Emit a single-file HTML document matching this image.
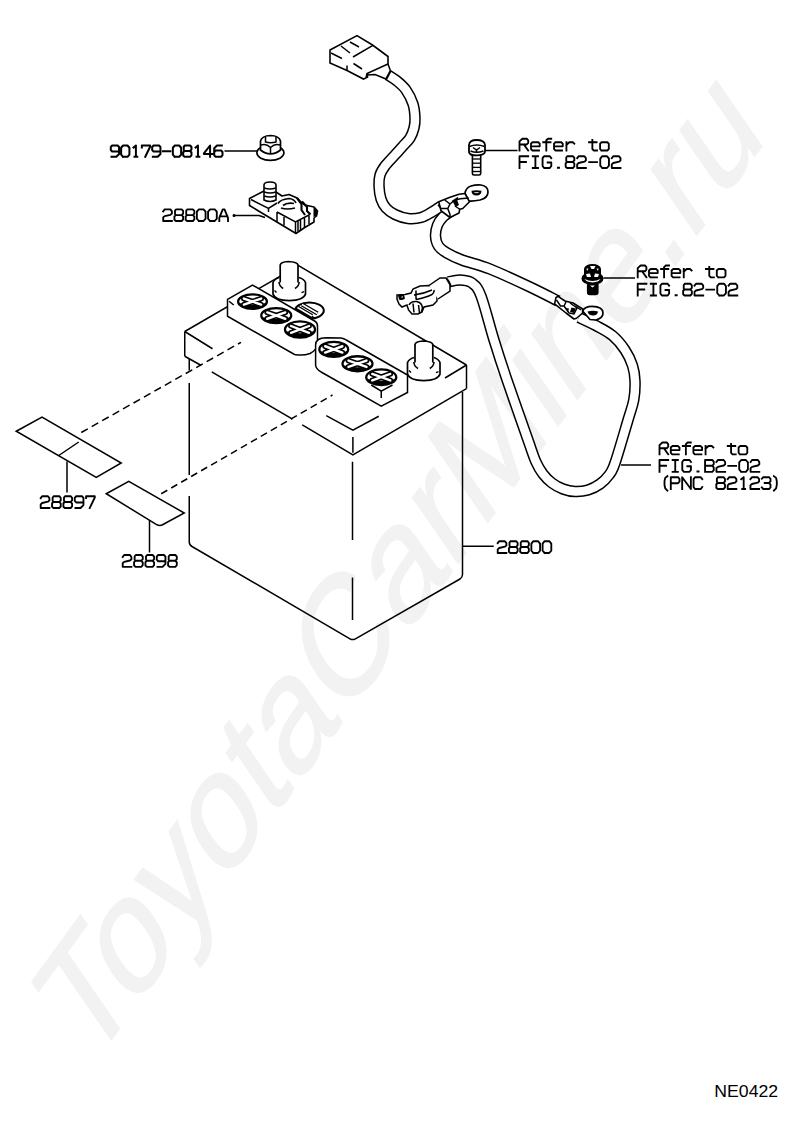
<!DOCTYPE html>
<html><head><meta charset="utf-8"><style>
html,body{margin:0;padding:0;background:#fff;width:800px;height:1132px;overflow:hidden}
svg{display:block}
</style></head><body>
<svg width="800" height="1132" viewBox="0 0 800 1132">
<text transform="matrix(0.8600 -1.1810 0.8589 1.246 88.9 1070.3)" font-family="Liberation Sans, sans-serif" font-size="100" fill="#f2f2f2" stroke="#f2f2f2" stroke-width="1.1">ToyotaCarMine.ru</text>
<path d="M184.75 331.50 L298.60 265.50 L466.50 365.00" fill="none" stroke="#000" stroke-width="1.50"/>
<path d="M184.75 331.50 L212.50 348.75" fill="none" stroke="#000" stroke-width="1.50"/>
<path d="M326.25 415.60 L352.90 430.25 L378.75 416.25" fill="none" stroke="#000" stroke-width="1.50"/>
<path d="M445.00 378.00 L466.50 365.00" fill="none" stroke="#000" stroke-width="1.50"/>
<path d="M184.75 331.50 L184.75 356.25" fill="none" stroke="#000" stroke-width="1.50"/>
<path d="M466.50 365.00 L466.50 388.60" fill="none" stroke="#000" stroke-width="1.50"/>
<path d="M352.90 437.00 L352.90 452.75" fill="none" stroke="#000" stroke-width="1.50"/>
<path d="M184.75 356.25 L201.25 365.50" fill="none" stroke="#000" stroke-width="1.50"/>
<path d="M211.75 371.90 L292.50 419.20" fill="none" stroke="#000" stroke-width="1.50"/>
<path d="M302.25 424.90 L352.90 455.00 L466.50 388.60" fill="none" stroke="#000" stroke-width="1.50"/>
<path d="M189.25 359.00 L189.25 370.50" fill="none" stroke="#000" stroke-width="1.50"/>
<path d="M189.25 383.00 L189.25 475.00" fill="none" stroke="#000" stroke-width="1.50"/>
<path d="M189.25 496 L189.25 542 Q189.25 545 192 546.5 L350 638.8 Q352.7 640.3 355.4 638.8 L460 579 Q462.5 577.5 462.5 574.5 L462.5 392" fill="none" stroke="#000" stroke-width="1.5"/>
<path d="M352.50 461.75 L352.50 540.00" fill="none" stroke="#000" stroke-width="1.50"/>
<path d="M352.50 577.50 L352.50 620.00" fill="none" stroke="#000" stroke-width="1.50"/>
<path d="M81.25 432.50 L241.00 342.30" fill="none" stroke="#000" stroke-width="1.50" stroke-dasharray="7.5 4.5"/>
<path d="M161.25 493.75 L332.50 395.00" fill="none" stroke="#000" stroke-width="1.50" stroke-dasharray="7 4.5"/>
<path d="M16.25 431.25 L42.00 417.00 L121.25 463.00 L96.25 477.50 Z" fill="none" stroke="#000" stroke-width="1.50"/>
<path d="M58.75 455.50 L78.75 442.00" fill="none" stroke="#000" stroke-width="1.50"/>
<path d="M67.00 461.50 L67.00 492.50" fill="none" stroke="#000" stroke-width="1.50"/>
<path d="M106.25 493.75 L128.75 481.25 L184.25 513 L163 524.5 Q160 526.25 157 524.8 Z" fill="none" stroke="#000" stroke-width="1.5"/>
<path d="M149.50 520.00 L149.50 552.50" fill="none" stroke="#000" stroke-width="1.50"/>
<ellipse cx="309.40" cy="310.60" rx="14.40" ry="8.10" fill="#fff" stroke="#000" stroke-width="2.00"/>
<path d="M295.5 311 A14 7.8 0 0 0 316 318 L296 306.5 Z" fill="#000"/>
<path d="M310 303 A14 7.8 0 0 1 323.5 311.5 L323 313 Z" fill="#000" opacity="0"/>
<path d="M297.5 307.5 L312 316 M302 304.5 L317.5 313.5" stroke="#000" stroke-width="4.2" fill="none"/>
<path d="M297.5 307.5 L312 316 M302 304.5 L317.5 313.5" stroke="#fff" stroke-width="1.6" fill="none"/>
<path d="M279.20 277.50 Q274.50 279.00 273.00 282.50 L273.00 294.10 Q275.00 300.60 289.25 300.60 Q303.50 300.60 305.50 294.10 L305.50 282.50 Q304.00 279.00 299.00 277.50 Z" fill="#fff" stroke="none"/>
<path d="M279.20 277.50 Q274.50 279.00 273.00 282.50 L273.00 294.10 Q275.00 300.60 289.25 300.60 Q303.50 300.60 305.50 294.10 L305.50 282.50 Q304.00 279.00 299.00 277.50" fill="none" stroke="#000" stroke-width="1.7"/>
<path d="M280.20 282.50 L280.20 265.00 Q280.70 262.00 288.21 261.50 Q297.50 262.00 298.00 265.00 L298.00 282.50" fill="#fff" stroke="#000" stroke-width="1.7"/>
<path d="M279.00 282.00 Q279.40 286.50 283.20 288.50 M299.20 282.00 Q298.80 286.50 295.00 288.50" fill="none" stroke="#000" stroke-width="1.6"/>
<path d="M274.50 290.60 L276.50 292.60 M304.00 291.60 L301.50 292.60" fill="none" stroke="#000" stroke-width="1.4"/>
<path d="M227.5 299.4 L252.5 285 L315 321.25 Q317.5 322.8 317.5 326 L317.5 344 Q316.5 350.5 310 353.5 Q303 356 294.5 354.5 L227.5 316.25 Z" fill="#fff" stroke="#000" stroke-width="1.5"/>
<path d="M229.00 301.25 L233.75 305.00" fill="none" stroke="#000" stroke-width="1.50"/>
<ellipse cx="252.50" cy="301.60" rx="14.40" ry="7.20" fill="#fff" stroke="#000" stroke-width="2.30"/>
<path d="M238.10 301.60 A14.40 7.20 0 0 0 266.90 301.60 A12.96 3.02 0 0 1 238.10 301.60 Z" fill="#000"/>
<path d="M243.86 298.58 L261.14 304.62 M261.14 298.58 L243.86 304.62" stroke="#000" stroke-width="5.6" stroke-linecap="round" fill="none"/>
<path d="M243.86 298.58 L261.14 304.62 M261.14 298.58 L243.86 304.62" stroke="#fff" stroke-width="2.4" stroke-linecap="round" fill="none"/>
<ellipse cx="276.25" cy="315.60" rx="15.00" ry="7.50" fill="#fff" stroke="#000" stroke-width="2.30"/>
<path d="M261.25 315.60 A15.00 7.50 0 0 0 291.25 315.60 A13.50 3.15 0 0 1 261.25 315.60 Z" fill="#000"/>
<path d="M267.25 312.45 L285.25 318.75 M285.25 312.45 L267.25 318.75" stroke="#000" stroke-width="5.6" stroke-linecap="round" fill="none"/>
<path d="M267.25 312.45 L285.25 318.75 M285.25 312.45 L267.25 318.75" stroke="#fff" stroke-width="2.4" stroke-linecap="round" fill="none"/>
<ellipse cx="300.00" cy="329.40" rx="15.00" ry="8.10" fill="#fff" stroke="#000" stroke-width="2.30"/>
<path d="M285.00 329.40 A15.00 8.10 0 0 0 315.00 329.40 A13.50 3.40 0 0 1 285.00 329.40 Z" fill="#000"/>
<path d="M291.00 326.00 L309.00 332.80 M309.00 326.00 L291.00 332.80" stroke="#000" stroke-width="5.6" stroke-linecap="round" fill="none"/>
<path d="M291.00 326.00 L309.00 332.80 M309.00 326.00 L291.00 332.80" stroke="#fff" stroke-width="2.4" stroke-linecap="round" fill="none"/>
<path d="M315.6 365 L315.6 345 Q315.6 338 326 337.8 L341 337.9 Q344 338.3 346.25 340 L407.5 375 L407.5 392.5 L381.25 406.25 L322 372.5 Q315.6 369 315.6 365 Z" fill="#fff" stroke="#000" stroke-width="1.5"/>
<path d="M371.25 385.00 L381.25 391.25 L392.50 385.00" fill="none" stroke="#000" stroke-width="1.50"/>
<path d="M381.25 391.25 L381.25 398.10" fill="none" stroke="#000" stroke-width="1.50"/>
<ellipse cx="333.75" cy="349.40" rx="14.40" ry="7.50" fill="#fff" stroke="#000" stroke-width="2.30"/>
<path d="M319.35 349.40 A14.40 7.50 0 0 0 348.15 349.40 A12.96 3.15 0 0 1 319.35 349.40 Z" fill="#000"/>
<path d="M325.11 346.25 L342.39 352.55 M342.39 346.25 L325.11 352.55" stroke="#000" stroke-width="5.6" stroke-linecap="round" fill="none"/>
<path d="M325.11 346.25 L342.39 352.55 M342.39 346.25 L325.11 352.55" stroke="#fff" stroke-width="2.4" stroke-linecap="round" fill="none"/>
<ellipse cx="357.50" cy="363.75" rx="15.00" ry="7.50" fill="#fff" stroke="#000" stroke-width="2.30"/>
<path d="M342.50 363.75 A15.00 7.50 0 0 0 372.50 363.75 A13.50 3.15 0 0 1 342.50 363.75 Z" fill="#000"/>
<path d="M348.50 360.60 L366.50 366.90 M366.50 360.60 L348.50 366.90" stroke="#000" stroke-width="5.6" stroke-linecap="round" fill="none"/>
<path d="M348.50 360.60 L366.50 366.90 M366.50 360.60 L348.50 366.90" stroke="#fff" stroke-width="2.4" stroke-linecap="round" fill="none"/>
<ellipse cx="381.25" cy="377.20" rx="15.00" ry="7.80" fill="#fff" stroke="#000" stroke-width="2.30"/>
<path d="M366.25 377.20 A15.00 7.80 0 0 0 396.25 377.20 A13.50 3.28 0 0 1 366.25 377.20 Z" fill="#000"/>
<path d="M372.25 373.92 L390.25 380.48 M390.25 373.92 L372.25 380.48" stroke="#000" stroke-width="5.6" stroke-linecap="round" fill="none"/>
<path d="M372.25 373.92 L390.25 380.48 M390.25 373.92 L372.25 380.48" stroke="#fff" stroke-width="2.4" stroke-linecap="round" fill="none"/>
<path d="M414.00 357.50 Q409.00 359.00 407.50 362.50 L407.50 374.10 Q409.50 380.60 423.75 380.60 Q438.00 380.60 440.00 374.10 L440.00 362.50 Q438.50 359.00 433.80 357.50 Z" fill="#fff" stroke="none"/>
<path d="M414.00 357.50 Q409.00 359.00 407.50 362.50 L407.50 374.10 Q409.50 380.60 423.75 380.60 Q438.00 380.60 440.00 374.10 L440.00 362.50 Q438.50 359.00 433.80 357.50" fill="none" stroke="#000" stroke-width="1.7"/>
<path d="M415.00 362.50 L415.00 344.50 Q415.50 341.50 423.01 341.00 Q432.30 341.50 432.80 344.50 L432.80 362.50" fill="#fff" stroke="#000" stroke-width="1.7"/>
<path d="M413.80 362.00 Q414.20 366.50 418.00 368.50 M434.00 362.00 Q433.60 366.50 429.80 368.50" fill="none" stroke="#000" stroke-width="1.6"/>
<path d="M409.00 370.60 L411.00 372.60 M438.50 371.60 L436.00 372.60" fill="none" stroke="#000" stroke-width="1.4"/>
<path d="M448.00 282.00 C450.00 281.67 456.00 279.83 460.00 280.00 C464.00 280.17 468.50 280.33 472.00 283.00 C475.50 285.67 477.33 286.50 481.00 296.00 C484.67 305.50 489.67 326.00 494.00 340.00 C498.33 354.00 501.33 363.33 507.00 380.00 C512.67 396.67 523.17 426.33 528.00 440.00 C532.83 453.67 533.50 456.33 536.00 462.00 C538.50 467.67 540.33 470.50 543.00 474.00 C545.67 477.50 548.67 480.50 552.00 483.00 C555.33 485.50 559.17 487.58 563.00 489.00 C566.83 490.42 570.83 491.33 575.00 491.50 C579.17 491.67 583.83 491.25 588.00 490.00 C592.17 488.75 596.50 486.50 600.00 484.00 C603.50 481.50 606.50 478.50 609.00 475.00 C611.50 471.50 611.83 472.17 615.00 463.00 C618.17 453.83 624.88 430.50 628.00 420.00 C631.12 409.50 632.58 406.50 633.75 400.00 C634.92 393.50 635.21 386.73 635.00 381.00 C634.79 375.27 634.17 370.77 632.50 365.60 C630.83 360.43 628.33 355.00 625.00 350.00 C621.67 345.00 617.33 339.67 612.50 335.60 C607.67 331.53 601.58 328.62 596.00 325.60 C590.42 322.58 581.83 318.85 579.00 317.50" fill="none" stroke="#000" stroke-width="11.50" stroke-linecap="butt" stroke-linejoin="round"/>
<path d="M448.00 282.00 C450.00 281.67 456.00 279.83 460.00 280.00 C464.00 280.17 468.50 280.33 472.00 283.00 C475.50 285.67 477.33 286.50 481.00 296.00 C484.67 305.50 489.67 326.00 494.00 340.00 C498.33 354.00 501.33 363.33 507.00 380.00 C512.67 396.67 523.17 426.33 528.00 440.00 C532.83 453.67 533.50 456.33 536.00 462.00 C538.50 467.67 540.33 470.50 543.00 474.00 C545.67 477.50 548.67 480.50 552.00 483.00 C555.33 485.50 559.17 487.58 563.00 489.00 C566.83 490.42 570.83 491.33 575.00 491.50 C579.17 491.67 583.83 491.25 588.00 490.00 C592.17 488.75 596.50 486.50 600.00 484.00 C603.50 481.50 606.50 478.50 609.00 475.00 C611.50 471.50 611.83 472.17 615.00 463.00 C618.17 453.83 624.88 430.50 628.00 420.00 C631.12 409.50 632.58 406.50 633.75 400.00 C634.92 393.50 635.21 386.73 635.00 381.00 C634.79 375.27 634.17 370.77 632.50 365.60 C630.83 360.43 628.33 355.00 625.00 350.00 C621.67 345.00 617.33 339.67 612.50 335.60 C607.67 331.53 601.58 328.62 596.00 325.60 C590.42 322.58 581.83 318.85 579.00 317.50" fill="none" stroke="#fff" stroke-width="8.50" stroke-linecap="butt" stroke-linejoin="round"/>
<path d="M451.00 211.00 C449.67 212.00 445.25 214.67 443.00 217.00 C440.75 219.33 438.75 221.83 437.50 225.00 C436.25 228.17 435.33 232.50 435.50 236.00 C435.67 239.50 436.58 243.17 438.50 246.00 C440.42 248.83 443.08 250.67 447.00 253.00 C450.92 255.33 454.83 257.33 462.00 260.00 C469.17 262.67 478.67 264.50 490.00 269.00 C501.33 273.50 518.67 281.67 530.00 287.00 C541.33 292.33 553.33 298.67 558.00 301.00" fill="none" stroke="#000" stroke-width="11.50" stroke-linecap="butt" stroke-linejoin="round"/>
<path d="M451.00 211.00 C449.67 212.00 445.25 214.67 443.00 217.00 C440.75 219.33 438.75 221.83 437.50 225.00 C436.25 228.17 435.33 232.50 435.50 236.00 C435.67 239.50 436.58 243.17 438.50 246.00 C440.42 248.83 443.08 250.67 447.00 253.00 C450.92 255.33 454.83 257.33 462.00 260.00 C469.17 262.67 478.67 264.50 490.00 269.00 C501.33 273.50 518.67 281.67 530.00 287.00 C541.33 292.33 553.33 298.67 558.00 301.00" fill="none" stroke="#fff" stroke-width="8.50" stroke-linecap="butt" stroke-linejoin="round"/>
<path d="M388.00 75.00 C389.50 76.00 394.00 78.50 397.00 81.00 C400.00 83.50 403.33 86.17 406.00 90.00 C408.67 93.83 411.50 99.33 413.00 104.00 C414.50 108.67 414.83 114.00 415.00 118.00 C415.17 122.00 414.83 124.67 414.00 128.00 C413.17 131.33 411.83 135.00 410.00 138.00 C408.17 141.00 405.67 143.00 403.00 146.00 C400.33 149.00 397.00 152.67 394.00 156.00 C391.00 159.33 387.33 162.83 385.00 166.00 C382.67 169.17 381.00 171.67 380.00 175.00 C379.00 178.33 378.83 182.00 379.00 186.00 C379.17 190.00 379.83 195.33 381.00 199.00 C382.17 202.67 383.67 205.42 386.00 208.00 C388.33 210.58 391.33 212.75 395.00 214.50 C398.67 216.25 403.67 218.00 408.00 218.50 C412.33 219.00 417.00 218.58 421.00 217.50 C425.00 216.42 428.67 213.92 432.00 212.00 C435.33 210.08 439.50 207.00 441.00 206.00" fill="none" stroke="#000" stroke-width="11.50" stroke-linecap="butt" stroke-linejoin="round"/>
<path d="M388.00 75.00 C389.50 76.00 394.00 78.50 397.00 81.00 C400.00 83.50 403.33 86.17 406.00 90.00 C408.67 93.83 411.50 99.33 413.00 104.00 C414.50 108.67 414.83 114.00 415.00 118.00 C415.17 122.00 414.83 124.67 414.00 128.00 C413.17 131.33 411.83 135.00 410.00 138.00 C408.17 141.00 405.67 143.00 403.00 146.00 C400.33 149.00 397.00 152.67 394.00 156.00 C391.00 159.33 387.33 162.83 385.00 166.00 C382.67 169.17 381.00 171.67 380.00 175.00 C379.00 178.33 378.83 182.00 379.00 186.00 C379.17 190.00 379.83 195.33 381.00 199.00 C382.17 202.67 383.67 205.42 386.00 208.00 C388.33 210.58 391.33 212.75 395.00 214.50 C398.67 216.25 403.67 218.00 408.00 218.50 C412.33 219.00 417.00 218.58 421.00 217.50 C425.00 216.42 428.67 213.92 432.00 212.00 C435.33 210.08 439.50 207.00 441.00 206.00" fill="none" stroke="#fff" stroke-width="8.50" stroke-linecap="butt" stroke-linejoin="round"/>
<path d="M465 193.5 Q465.5 188 471 186 Q476 184.6 481 185 Q488 186 488 192 Q488 198 480 200 Q473 201.5 468.5 201 Z" fill="#fff" stroke="#000" stroke-width="1.7"/>
<path d="M471.5 190.8 Q476.5 189.8 481.5 190.8 Q481.5 195.6 476.5 195.6 Q471.5 195.6 471.5 190.8 Z M473.5 192.3 Q476.5 194.3 479.5 192.3 Z" fill="#000" fill-rule="evenodd"/>
<path d="M438.75 201.75 L450 197.25 L459 194.25 L465 193.5 L469.5 201.75 L462.75 208.5 L459.75 209.25 L459 213 L450 217.5 L441 210.75 Z" fill="#fff" stroke="#000" stroke-width="1.6" stroke-linejoin="round"/>
<path d="M438 204.75 L441 208.5 L447.75 208.5 L450 204 L444.75 200 M447.75 208.5 L450 214.5 L450 217.5 M450 204 L455 200 L460.5 198.75 L468.75 198 M455 206 L459.75 209.25 M452 201.5 L458 197.5" fill="none" stroke="#000" stroke-width="1.5"/>
<path d="M452.5 201 L457 199.5 L459 205 L455.5 207 Z" fill="#000"/>
<path d="M582.6 311 Q585 306.4 592 306.4 Q603 306.6 603 313 Q603 318 596 320 L590 319.5 Z" fill="#fff" stroke="#000" stroke-width="1.7"/>
<path d="M587.5 311.5 Q593 310 598 311.5 Q597.5 315.5 593 315.5 Q588.5 315.5 587.5 311.5 Z" fill="#000"/>
<path d="M554.6 303.8 L556 297.5 L558 296.4 L565 301 L573 303 L582.6 309 L582.6 313 L576.5 318.25 L574 319 L566 313 Z" fill="#fff" stroke="#000" stroke-width="1.6" stroke-linejoin="round"/>
<path d="M556.5 300 L560.5 306 L564 306 L566 302 M564 306 L569 313 M570 303 L577 308 L574 314 L569 313 M575 306 L581 310" fill="none" stroke="#000" stroke-width="1.5"/>
<path d="M571.5 307.5 L576 308.5 L574 313 L570 312 Z M565 308 L569 308.5 L568 312 Z" fill="#000"/>
<path d="M397 295 L405 294.5 L411 293 L413 289 L420 286 L429 285.5 L434 288 L437 293 L437 301 L433 305 L424 307 L422 312 L418 314 L412 314 L408.5 310 L407 305 L402 307 L399 304 L397 299 Z" fill="#fff" stroke="#000" stroke-width="1.5"/>
<path d="M429 285.5 L440 278 L446 278 L450 285 L450 291 L438 299" fill="#fff" stroke="#000" stroke-width="1.5"/>
<path d="M446 278 Q450 281 451 287" fill="none" stroke="#000" stroke-width="1.5"/>
<path d="M414 295 Q423 294 432 290 M416 299.5 Q426 297.5 432 294.5 Q434.5 292.5 434 290 M416 290.5 L416 299.5 M413 303.5 L414 312.5 M418.5 305 L419.5 313" fill="none" stroke="#000" stroke-width="1.5"/>
<path d="M409 305 Q411 301 416.5 301.5 Q422 302.5 422.5 308 L421.5 312" fill="none" stroke="#000" stroke-width="1.6"/>
<path d="M398 295.5 Q401 293.5 404 295 L405 298.5 Q402 301 399 299.5 Z" fill="#000"/>
<path d="M401.5 296.5 Q402.5 296 403 297 Q402.5 298 401.5 297.6 Z" fill="#fff"/>
<path d="M472.4 155 L472.4 173.5 Q472.4 175 474 175 L479 175 Q480.7 175 480.7 173.5 L480.7 155" fill="#fff" stroke="#000" stroke-width="1.6"/>
<path d="M473.00 159.00 L480.00 159.00" fill="none" stroke="#000" stroke-width="1.30"/>
<path d="M473.00 163.20 L480.00 163.20" fill="none" stroke="#000" stroke-width="1.30"/>
<path d="M473.00 167.40 L480.00 167.40" fill="none" stroke="#000" stroke-width="1.30"/>
<path d="M473.00 171.50 L480.00 171.50" fill="none" stroke="#000" stroke-width="1.30"/>
<path d="M469 148 L469 145 Q469.5 140 476.5 140 Q484.5 140 485 145 L485 152 Q484 155.4 476.5 155.4 Q469.5 155.4 469 152 Z" fill="#fff" stroke="#000" stroke-width="1.8"/>
<path d="M469.5 146.5 Q476.5 143.5 484.5 146.5 M473 147.5 L476.5 150 L480 147.5 M476.5 150 L476.5 152 M470.5 151 Q476.5 153.5 483.5 151" fill="none" stroke="#000" stroke-width="1.5"/>
<path d="M485.00 150.60 L517.50 150.60" fill="none" stroke="#000" stroke-width="1.50"/>
<path d="M587.5 284 L587.5 292.5 Q587.5 294.6 590 294.6 L595.5 294.6 Q598 294.6 598 292.5 L598 284 Z" fill="#000" stroke="#000" stroke-width="1.2"/>
<path d="M590 285.5 L595 285.5 L592.5 287.5 Z" fill="#fff"/>
<path d="M581.5 278.5 Q581.5 272.5 592.5 272.5 Q603.5 272.5 603.5 278.5 Q603.5 284.5 592.5 284.5 Q581.5 284.5 581.5 278.5 Z" fill="#000"/>
<path d="M584 276.5 L584 268.5 Q585.5 264 592.5 264 Q599.5 264 601 268.5 L601 276.5 Z" fill="#000"/>
<path d="M590 266 L595.5 266 L594 269 L591.5 269 Z M586.5 268.5 L588.5 268.5 L587 271 Z M598.5 268.5 L596.5 268.5 L598 271 Z M586 274 L590 273.5 L591 277 L587 277 Z M599 274 L595 273.5 L594 277 L598 277 Z M584.5 279 Q592.5 283 600.5 279 Q599 282 592.5 282.5 Q586 282 584.5 279 Z" fill="#fff"/>
<path d="M603.50 278.00 L635.00 278.00" fill="none" stroke="#000" stroke-width="1.50"/>
<ellipse cx="270.40" cy="152.80" rx="13.50" ry="7.60" fill="#fff" stroke="#000" stroke-width="1.70"/>
<path d="M260.5 150 L260.5 141 Q262 135.7 270.5 135.5 Q279 135.7 280.5 141 L280.5 150 Q276 153.8 270.5 153.8 Q265 153.8 260.5 150 Z" fill="#fff" stroke="#000" stroke-width="1.7"/>
<path d="M265.5 137 L265.5 142 Q270.5 143.5 276 142 L276 137" fill="none" stroke="#000" stroke-width="1.5"/>
<path d="M261 145 Q266 143 270.5 147.5 Q275 143 280 145 M270.5 147.5 L270.5 153.5" fill="none" stroke="#000" stroke-width="1.5"/>
<path d="M224.50 151.00 L257.00 151.00" fill="none" stroke="#000" stroke-width="1.50"/>
<path d="M249.5 198.5 L264 191 L276 192 L282 196 L289 194.5 L297 198 L301 202 L305 205 L314 207 L317.5 211 L316.5 216 L314 218 L314 222 L304 228 L296 233.5 L249.5 205.5 Z" fill="#fff" stroke="#000" stroke-width="1.6" stroke-linejoin="round"/>
<path d="M251 199.5 L268.5 208.5 L277 203 M268.5 208.5 L268.5 212 M277 212 L277 222 M284 217 L284 225.5 M295.5 222 L295.5 233 M298 221 L298 231.5 M300.5 220 L300.5 230.5 M304.5 218 L304.5 228 M309 216 L309 224 M277 212 L295.5 222 L310 214.5" fill="none" stroke="#000" stroke-width="1.5"/>
<path d="M278 203.5 Q280 199.5 289 198.5 Q294 198.8 296 203 M283 205.5 Q287 202.2 294 203.5 M281 208 Q287 210 295 208" fill="none" stroke="#000" stroke-width="1.7"/>
<path d="M297 198 L301.5 204 L301.5 210 L305 215 M302 201.5 L307 207 L307 211 L310.5 214.5" fill="none" stroke="#000" stroke-width="2.1"/>
<path d="M313.5 207.5 Q318 209 317.5 212 L316.5 216 L313.5 217 Z" fill="#000"/>
<path d="M264 200 L264 185 Q264 182 270 182 Q276 182 276 185 L276 200 Q270 203 264 200 Z" fill="#fff" stroke="#000" stroke-width="1.6"/>
<path d="M264.2 188.0 Q270 190.2 275.8 188.0" fill="none" stroke="#000" stroke-width="1.5"/>
<path d="M264.2 192.0 Q270 194.2 275.8 192.0" fill="none" stroke="#000" stroke-width="1.5"/>
<path d="M264.2 196.0 Q270 198.2 275.8 196.0" fill="none" stroke="#000" stroke-width="1.5"/>
<path d="M234.50 215.50 L259.00 215.50 L265.00 217.50" fill="none" stroke="#000" stroke-width="1.50"/>
<ellipse cx="234.00" cy="215.50" rx="0.90" ry="0.90" fill="#000" stroke="#000" stroke-width="1.20"/>
<path d="M330 50 L357 35.6 L372.5 45 L388 56.5 L388 64 L367 73.5 L366 78 L363.5 79 L347 70.5 L330 63 Z" fill="#fff" stroke="#000" stroke-width="1.6"/>
<path d="M372.50 45.60 L353.00 57.00" fill="none" stroke="#000" stroke-width="1.50"/>
<path d="M367.50 73.00 L367.50 78.00" fill="none" stroke="#000" stroke-width="1.50"/>
<path d="M347.00 65.50 L347.00 71.00" fill="none" stroke="#000" stroke-width="1.50"/>
<path d="M331.00 53.00 L342.00 58.50" fill="none" stroke="#000" stroke-width="1.50"/>
<path d="M353.50 63.50 L362.00 69.00" fill="none" stroke="#000" stroke-width="1.50"/>
<path d="M341.00 46.00 L350.00 53.00" fill="none" stroke="#000" stroke-width="1.50"/>
<path d="M350.00 42.00 L359.00 47.00" fill="none" stroke="#000" stroke-width="1.50"/>
<path d="M388.00 64.00 L390.50 71.00" fill="none" stroke="#000" stroke-width="1.50"/>
<path d="M386.00 79.50 L390.50 71.00" fill="none" stroke="#000" stroke-width="2.20"/>
<path d="M367.00 75.00 L375.00 74.50 L386.00 79.00" fill="none" stroke="#000" stroke-width="1.50"/>
<path d="M462.50 546.25 L493.75 546.25" fill="none" stroke="#000" stroke-width="1.50"/>
<path d="M621.00 465.00 L651.00 465.00" fill="none" stroke="#000" stroke-width="1.50"/>
<path d="M111.49 156.80 L116.32 156.80 L119.08 154.04 L119.08 147.01 L117.70 145.50 L112.18 145.50 L110.80 147.01 L110.80 150.02 L112.18 151.53 L119.08 151.53 M123.07 156.80 L127.49 156.80 L129.42 154.54 L129.42 147.76 L127.49 145.50 L123.07 145.50 L121.14 147.76 L121.14 154.54 L123.07 156.80 M133.55 147.51 L135.90 145.50 L135.90 156.80 M134.52 156.80 L137.28 156.80 M141.83 147.38 L141.83 145.50 L150.11 145.50 L150.11 146.76 L145.28 156.80 M152.86 156.80 L157.69 156.80 L160.45 154.04 L160.45 147.01 L159.07 145.50 L153.55 145.50 L152.17 147.01 L152.17 150.02 L153.55 151.53 L160.45 151.53 M162.92 151.15 L170.38 151.15 M174.78 156.80 L179.20 156.80 L181.13 154.54 L181.13 147.76 L179.20 145.50 L174.78 145.50 L172.85 147.76 L172.85 154.54 L174.78 156.80 M184.57 151.02 L183.75 150.02 L183.75 146.76 L184.85 145.50 L190.09 145.50 L191.47 147.01 L191.47 149.52 L190.09 151.02 L184.57 151.02 L183.19 152.28 L183.19 155.54 L184.57 156.80 L190.09 156.80 L191.47 155.29 L191.47 152.53 L190.09 151.02 M195.61 147.51 L197.95 145.50 L197.95 156.80 M196.57 156.80 L199.33 156.80 M210.09 156.80 L210.09 145.50 L203.88 153.28 L203.88 154.04 L212.16 154.04 M221.81 145.50 L216.98 145.50 L214.22 148.26 L214.22 155.29 L215.60 156.80 L221.12 156.80 L222.50 155.29 L222.50 152.03 L221.12 150.52 L215.60 150.52 L214.22 152.03" fill="none" stroke="#000" stroke-width="2.00" stroke-linejoin="round" stroke-linecap="square"/>
<path d="M163.20 211.33 L164.65 209.40 L170.45 209.40 L171.90 211.33 L171.90 213.52 L170.45 214.81 L164.65 216.10 L163.20 217.39 L163.20 221.00 L171.90 221.00 M175.87 215.07 L175.00 214.04 L175.00 210.69 L176.16 209.40 L181.67 209.40 L183.12 210.95 L183.12 213.52 L181.67 215.07 L175.87 215.07 L174.42 216.36 L174.42 219.71 L175.87 221.00 L181.67 221.00 L183.12 219.45 L183.12 216.62 L181.67 215.07 M187.09 215.07 L186.22 214.04 L186.22 210.69 L187.38 209.40 L192.89 209.40 L194.34 210.95 L194.34 213.52 L192.89 215.07 L187.09 215.07 L185.64 216.36 L185.64 219.71 L187.09 221.00 L192.89 221.00 L194.34 219.45 L194.34 216.62 L192.89 215.07 M198.89 221.00 L203.53 221.00 L205.56 218.68 L205.56 211.72 L203.53 209.40 L198.89 209.40 L196.86 211.72 L196.86 218.68 L198.89 221.00 M210.11 221.00 L214.75 221.00 L216.78 218.68 L216.78 211.72 L214.75 209.40 L210.11 209.40 L208.08 211.72 L208.08 218.68 L210.11 221.00 M219.30 221.00 L219.30 217.78 L222.78 209.40 L224.52 209.40 L228.00 217.78 L228.00 221.00 M219.88 216.36 L227.42 216.36" fill="none" stroke="#000" stroke-width="1.85" stroke-linejoin="round" stroke-linecap="square"/>
<path d="M519.50 150.50 L519.50 141.32 L522.40 138.70 L526.75 138.70 L528.20 140.27 L528.20 142.90 L526.75 144.47 L519.50 144.47 M523.85 144.47 L528.20 150.50 M531.30 146.30 L539.71 146.30 L539.71 143.68 L538.26 142.24 L532.46 142.24 L531.01 143.68 L531.01 149.06 L532.46 150.50 L538.99 150.50 M551.23 138.70 L548.04 138.70 L546.30 140.27 L546.30 150.50 M543.25 142.24 L550.50 142.24 M554.33 146.30 L562.74 146.30 L562.74 143.68 L561.29 142.24 L555.49 142.24 L554.04 143.68 L554.04 149.06 L555.49 150.50 L562.02 150.50 M566.43 142.24 L566.43 150.50 M566.43 144.99 L569.33 142.24 L572.81 142.24 L574.26 143.68 M592.36 140.01 L592.36 149.06 L593.81 150.50 L597.00 150.50 M589.02 142.24 L596.56 142.24 M601.55 150.50 L607.35 150.50 L608.80 149.06 L608.80 143.68 L607.35 142.24 L601.55 142.24 L600.10 143.68 L600.10 149.06 L601.55 150.50" fill="none" stroke="#000" stroke-width="1.85" stroke-linejoin="round" stroke-linecap="square"/>
<path d="M528.20 156.20 L519.50 156.20 L519.50 168.00 M519.50 161.97 L526.02 161.97 M532.78 156.20 L538.00 156.20 M535.39 156.20 L535.39 168.00 M532.78 168.00 L538.00 168.00 M551.28 158.17 L549.83 156.20 L544.03 156.20 L542.58 158.17 L542.58 166.03 L544.03 168.00 L549.83 168.00 L551.28 166.03 L551.28 162.49 L547.65 162.49 M557.88 167.74 L559.04 167.74 M567.10 161.97 L566.23 160.92 L566.23 157.51 L567.39 156.20 L572.90 156.20 L574.35 157.77 L574.35 160.40 L572.90 161.97 L567.10 161.97 L565.65 163.28 L565.65 166.69 L567.10 168.00 L572.90 168.00 L574.35 166.43 L574.35 163.54 L572.90 161.97 M577.19 158.17 L578.64 156.20 L584.44 156.20 L585.89 158.17 L585.89 160.40 L584.44 161.71 L578.64 163.02 L577.19 164.33 L577.19 168.00 L585.89 168.00 M589.16 162.10 L596.99 162.10 M602.29 168.00 L606.93 168.00 L608.96 165.64 L608.96 158.56 L606.93 156.20 L602.29 156.20 L600.26 158.56 L600.26 165.64 L602.29 168.00 M611.80 158.17 L613.25 156.20 L619.05 156.20 L620.50 158.17 L620.50 160.40 L619.05 161.71 L613.25 163.02 L611.80 164.33 L611.80 168.00 L620.50 168.00" fill="none" stroke="#000" stroke-width="1.85" stroke-linejoin="round" stroke-linecap="square"/>
<path d="M637.70 277.30 L637.70 268.12 L640.60 265.50 L644.95 265.50 L646.40 267.07 L646.40 269.70 L644.95 271.27 L637.70 271.27 M642.05 271.27 L646.40 277.30 M649.29 273.10 L657.70 273.10 L657.70 270.48 L656.25 269.04 L650.45 269.04 L649.00 270.48 L649.00 275.86 L650.45 277.30 L656.98 277.30 M669.00 265.50 L665.81 265.50 L664.07 267.07 L664.07 277.30 M661.03 269.04 L668.28 269.04 M671.89 273.10 L680.30 273.10 L680.30 270.48 L678.85 269.04 L673.05 269.04 L671.60 270.48 L671.60 275.86 L673.05 277.30 L679.58 277.30 M683.77 269.04 L683.77 277.30 M683.77 271.79 L686.67 269.04 L690.15 269.04 L691.60 270.48 M709.27 266.81 L709.27 275.86 L710.72 277.30 L713.91 277.30 M705.93 269.04 L713.48 269.04 M718.25 277.30 L724.05 277.30 L725.50 275.86 L725.50 270.48 L724.05 269.04 L718.25 269.04 L716.80 270.48 L716.80 275.86 L718.25 277.30" fill="none" stroke="#000" stroke-width="1.85" stroke-linejoin="round" stroke-linecap="square"/>
<path d="M646.40 283.70 L637.70 283.70 L637.70 295.50 M637.70 289.47 L644.23 289.47 M650.80 283.70 L656.02 283.70 M653.41 283.70 L653.41 295.50 M650.80 295.50 L656.02 295.50 M669.12 285.67 L667.67 283.70 L661.88 283.70 L660.42 285.67 L660.42 293.53 L661.88 295.50 L667.67 295.50 L669.12 293.53 L669.12 289.99 L665.50 289.99 M675.56 295.24 L676.72 295.24 M684.60 289.47 L683.73 288.42 L683.73 285.01 L684.89 283.70 L690.40 283.70 L691.85 285.27 L691.85 287.90 L690.40 289.47 L684.60 289.47 L683.15 290.78 L683.15 294.19 L684.60 295.50 L690.40 295.50 L691.85 293.93 L691.85 291.04 L690.40 289.47 M694.51 285.67 L695.96 283.70 L701.76 283.70 L703.21 285.67 L703.21 287.90 L701.76 289.21 L695.96 290.52 L694.51 291.83 L694.51 295.50 L703.21 295.50 M706.31 289.60 L714.14 289.60 M719.27 295.50 L723.91 295.50 L725.94 293.14 L725.94 286.06 L723.91 283.70 L719.27 283.70 L717.24 286.06 L717.24 293.14 L719.27 295.50 M728.60 285.67 L730.05 283.70 L735.85 283.70 L737.30 285.67 L737.30 287.90 L735.85 289.21 L730.05 290.52 L728.60 291.83 L728.60 295.50 L737.30 295.50" fill="none" stroke="#000" stroke-width="1.85" stroke-linejoin="round" stroke-linecap="square"/>
<path d="M659.50 454.30 L659.50 445.12 L662.40 442.50 L666.75 442.50 L668.20 444.07 L668.20 446.70 L666.75 448.27 L659.50 448.27 M663.85 448.27 L668.20 454.30 M671.09 450.10 L679.50 450.10 L679.50 447.48 L678.05 446.04 L672.25 446.04 L670.80 447.48 L670.80 452.86 L672.25 454.30 L678.77 454.30 M690.80 442.50 L687.61 442.50 L685.87 444.07 L685.87 454.30 M682.83 446.04 L690.08 446.04 M693.69 450.10 L702.10 450.10 L702.10 447.48 L700.65 446.04 L694.85 446.04 L693.40 447.48 L693.40 452.86 L694.85 454.30 L701.38 454.30 M705.57 446.04 L705.57 454.30 M705.57 448.79 L708.47 446.04 L711.95 446.04 L713.40 447.48 M731.07 443.81 L731.07 452.86 L732.52 454.30 L735.71 454.30 M727.73 446.04 L735.27 446.04 M740.05 454.30 L745.85 454.30 L747.30 452.86 L747.30 447.48 L745.85 446.04 L740.05 446.04 L738.60 447.48 L738.60 452.86 L740.05 454.30" fill="none" stroke="#000" stroke-width="1.85" stroke-linejoin="round" stroke-linecap="square"/>
<path d="M668.20 460.00 L659.50 460.00 L659.50 471.80 M659.50 465.77 L666.02 465.77 M672.63 460.00 L677.85 460.00 M675.24 460.00 L675.24 471.80 M672.63 471.80 L677.85 471.80 M690.98 461.97 L689.52 460.00 L683.73 460.00 L682.27 461.97 L682.27 469.83 L683.73 471.80 L689.52 471.80 L690.98 469.83 L690.98 466.29 L687.35 466.29 M697.43 471.54 L698.59 471.54 M705.05 471.80 L705.05 460.00 L712.30 460.00 L713.75 461.57 L713.75 464.20 L712.30 465.77 L705.05 465.77 M712.30 465.77 L713.75 467.34 L713.75 470.23 L712.30 471.80 L705.05 471.80 M716.44 461.97 L717.89 460.00 L723.69 460.00 L725.14 461.97 L725.14 464.20 L723.69 465.51 L717.89 466.82 L716.44 468.13 L716.44 471.80 L725.14 471.80 M728.26 465.90 L736.09 465.90 M741.24 471.80 L745.88 471.80 L747.91 469.44 L747.91 462.36 L745.88 460.00 L741.24 460.00 L739.21 462.36 L739.21 469.44 L741.24 471.80 M750.60 461.97 L752.05 460.00 L757.85 460.00 L759.30 461.97 L759.30 464.20 L757.85 465.51 L752.05 466.82 L750.60 468.13 L750.60 471.80 L759.30 471.80" fill="none" stroke="#000" stroke-width="1.85" stroke-linejoin="round" stroke-linecap="square"/>
<path d="M667.40 476.15 L665.22 477.86 L664.50 481.13 L664.50 485.07 L665.22 488.34 L667.40 490.57 M670.80 489.00 L670.80 477.20 L678.05 477.20 L679.50 478.77 L679.50 481.66 L678.05 483.23 L670.80 483.23 M682.17 489.00 L682.17 477.20 L690.88 489.00 L690.88 477.20 M702.25 479.17 L700.80 477.20 L695.00 477.20 L693.55 479.17 L693.55 487.03 L695.00 489.00 L700.80 489.00 L702.25 487.03 M717.75 482.97 L716.88 481.92 L716.88 478.51 L718.04 477.20 L723.55 477.20 L725.00 478.77 L725.00 481.40 L723.55 482.97 L717.75 482.97 L716.30 484.28 L716.30 487.69 L717.75 489.00 L723.55 489.00 L725.00 487.43 L725.00 484.54 L723.55 482.97 M727.67 479.17 L729.12 477.20 L734.92 477.20 L736.38 479.17 L736.38 481.40 L734.92 482.71 L729.12 484.02 L727.67 485.33 L727.67 489.00 L736.38 489.00 M741.22 479.30 L743.69 477.20 L743.69 489.00 M742.24 489.00 L745.14 489.00 M750.42 479.17 L751.88 477.20 L757.67 477.20 L759.12 479.17 L759.12 481.40 L757.67 482.71 L751.88 484.02 L750.42 485.33 L750.42 489.00 L759.12 489.00 M761.80 478.77 L763.25 477.20 L769.05 477.20 L770.50 478.77 L770.50 481.40 L769.05 482.97 L764.70 482.97 M769.05 482.97 L770.50 484.54 L770.50 487.43 L769.05 489.00 L763.25 489.00 L761.80 487.43 M773.90 476.15 L776.07 477.86 L776.80 481.13 L776.80 485.07 L776.07 488.34 L773.90 490.57" fill="none" stroke="#000" stroke-width="1.85" stroke-linejoin="round" stroke-linecap="square"/>
<path d="M40.70 498.17 L42.15 496.20 L47.95 496.20 L49.40 498.17 L49.40 500.40 L47.95 501.71 L42.15 503.02 L40.70 504.33 L40.70 508.00 L49.40 508.00 M53.50 501.97 L52.63 500.92 L52.63 497.51 L53.79 496.20 L59.30 496.20 L60.75 497.77 L60.75 500.40 L59.30 501.97 L53.50 501.97 L52.05 503.28 L52.05 506.69 L53.50 508.00 L59.30 508.00 L60.75 506.43 L60.75 503.54 L59.30 501.97 M64.85 501.97 L63.98 500.92 L63.98 497.51 L65.14 496.20 L70.65 496.20 L72.10 497.77 L72.10 500.40 L70.65 501.97 L64.85 501.97 L63.40 503.28 L63.40 506.69 L64.85 508.00 L70.65 508.00 L72.10 506.43 L72.10 503.54 L70.65 501.97 M75.47 508.00 L80.55 508.00 L83.45 505.12 L83.45 497.77 L82.00 496.20 L76.20 496.20 L74.75 497.77 L74.75 500.92 L76.20 502.49 L83.45 502.49 M86.10 498.17 L86.10 496.20 L94.80 496.20 L94.80 497.51 L89.72 508.00" fill="none" stroke="#000" stroke-width="1.85" stroke-linejoin="round" stroke-linecap="square"/>
<path d="M122.70 556.97 L124.15 555.00 L129.95 555.00 L131.40 556.97 L131.40 559.20 L129.95 560.51 L124.15 561.82 L122.70 563.13 L122.70 566.80 L131.40 566.80 M135.50 560.77 L134.63 559.72 L134.63 556.31 L135.79 555.00 L141.30 555.00 L142.75 556.57 L142.75 559.20 L141.30 560.77 L135.50 560.77 L134.05 562.08 L134.05 565.49 L135.50 566.80 L141.30 566.80 L142.75 565.23 L142.75 562.34 L141.30 560.77 M146.85 560.77 L145.98 559.72 L145.98 556.31 L147.14 555.00 L152.65 555.00 L154.10 556.57 L154.10 559.20 L152.65 560.77 L146.85 560.77 L145.40 562.08 L145.40 565.49 L146.85 566.80 L152.65 566.80 L154.10 565.23 L154.10 562.34 L152.65 560.77 M157.47 566.80 L162.55 566.80 L165.45 563.92 L165.45 556.57 L164.00 555.00 L158.20 555.00 L156.75 556.57 L156.75 559.72 L158.20 561.29 L165.45 561.29 M169.55 560.77 L168.68 559.72 L168.68 556.31 L169.84 555.00 L175.35 555.00 L176.80 556.57 L176.80 559.20 L175.35 560.77 L169.55 560.77 L168.10 562.08 L168.10 565.49 L169.55 566.80 L175.35 566.80 L176.80 565.23 L176.80 562.34 L175.35 560.77" fill="none" stroke="#000" stroke-width="1.85" stroke-linejoin="round" stroke-linecap="square"/>
<path d="M497.70 543.17 L499.15 541.20 L504.95 541.20 L506.40 543.17 L506.40 545.40 L504.95 546.71 L499.15 548.02 L497.70 549.33 L497.70 553.00 L506.40 553.00 M510.37 546.97 L509.50 545.92 L509.50 542.51 L510.66 541.20 L516.17 541.20 L517.62 542.77 L517.62 545.40 L516.17 546.97 L510.37 546.97 L508.92 548.28 L508.92 551.69 L510.37 553.00 L516.17 553.00 L517.62 551.43 L517.62 548.54 L516.17 546.97 M521.60 546.97 L520.73 545.92 L520.73 542.51 L521.89 541.20 L527.40 541.20 L528.85 542.77 L528.85 545.40 L527.40 546.97 L521.60 546.97 L520.15 548.28 L520.15 551.69 L521.60 553.00 L527.40 553.00 L528.85 551.43 L528.85 548.54 L527.40 546.97 M533.40 553.00 L538.04 553.00 L540.07 550.64 L540.07 543.56 L538.04 541.20 L533.40 541.20 L531.37 543.56 L531.37 550.64 L533.40 553.00 M544.63 553.00 L549.27 553.00 L551.30 550.64 L551.30 543.56 L549.27 541.20 L544.63 541.20 L542.60 543.56 L542.60 550.64 L544.63 553.00" fill="none" stroke="#000" stroke-width="1.85" stroke-linejoin="round" stroke-linecap="square"/>
<text transform="matrix(0.17672 0 0 0.17143 714.29 1096.75)" font-family="Liberation Sans, sans-serif" font-size="100" fill="#000">NE0422</text>
</svg>
</body></html>
